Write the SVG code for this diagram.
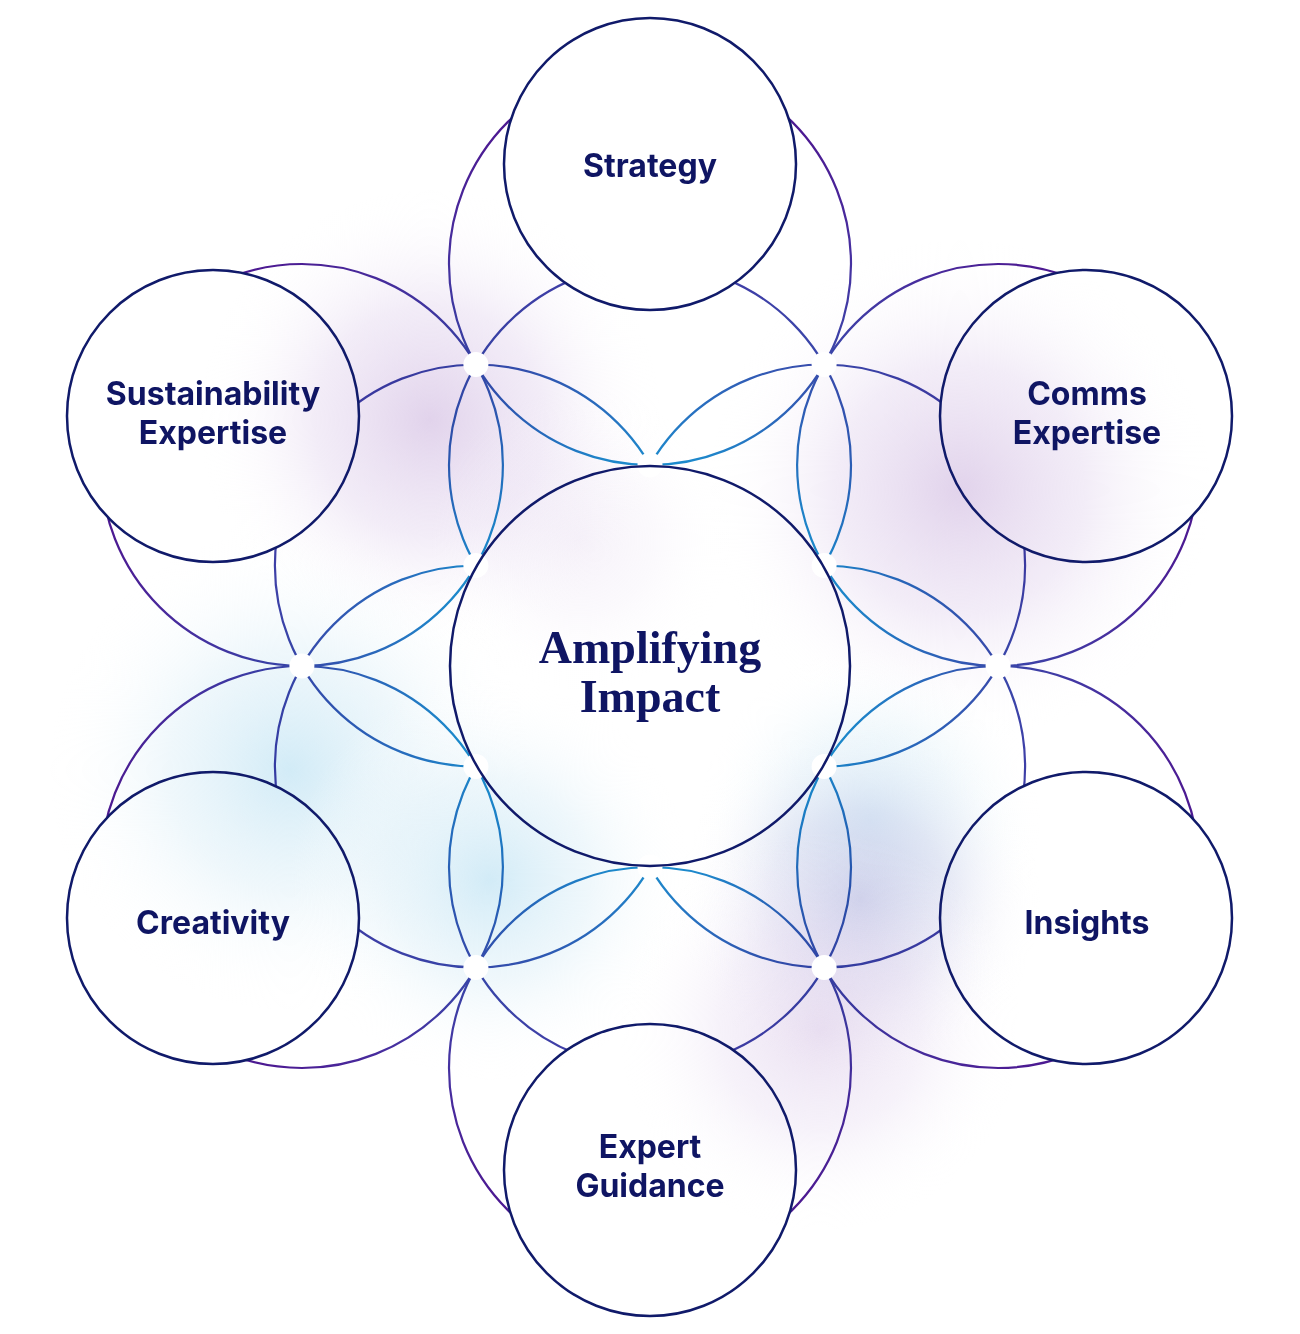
<svg xmlns="http://www.w3.org/2000/svg" width="1300" height="1334" viewBox="0 0 1300 1334">
<defs>
<radialGradient id="lineGrad" gradientUnits="userSpaceOnUse" cx="650" cy="666" r="650">
<stop offset="0.3" stop-color="#1a90cf"/>
<stop offset="0.4" stop-color="#2870c0"/>
<stop offset="0.55" stop-color="#3a46aa"/>
<stop offset="0.7" stop-color="#4630a0"/>
<stop offset="0.85" stop-color="#4c1a92"/>
<stop offset="1" stop-color="#4c1690"/>
</radialGradient>
<radialGradient id="gPurple"><stop offset="0" stop-color="#dccbe8" stop-opacity="0.85"/><stop offset="0.5" stop-color="#e6daf0" stop-opacity="0.5"/><stop offset="1" stop-color="#ffffff" stop-opacity="0"/></radialGradient>
<radialGradient id="gBlue"><stop offset="0" stop-color="#cde9f6" stop-opacity="0.9"/><stop offset="0.5" stop-color="#dff0f8" stop-opacity="0.5"/><stop offset="1" stop-color="#ffffff" stop-opacity="0"/></radialGradient>
<radialGradient id="gIndigo"><stop offset="0" stop-color="#c3c7e6" stop-opacity="0.9"/><stop offset="0.5" stop-color="#d8d8ee" stop-opacity="0.5"/><stop offset="1" stop-color="#ffffff" stop-opacity="0"/></radialGradient>
</defs>
<style>
.flower circle{fill:none;stroke:url(#lineGrad);stroke-width:2.2}
.nodefill{fill:#ffffff}
.glows{mix-blend-mode:multiply}
.ring{fill:none;stroke:#101a6a;stroke-width:2.5}
.dot{fill:#ffffff}
.lbl{font-family:Inter,Lato,sans-serif;font-weight:700;font-size:32px;fill:#0f1563;text-anchor:middle;font-variant-ligatures:none}
.title{font-family:"Liberation Serif",serif;font-weight:700;font-size:46px;fill:#0f1563;text-anchor:middle}
</style>
<rect width="1300" height="1334" fill="#ffffff"/>
<g id="connectors" class="flower">
<circle cx="650" cy="465" r="201"/>
<circle cx="824.1" cy="565.5" r="201"/>
<circle cx="824.1" cy="766.5" r="201"/>
<circle cx="650" cy="867" r="201"/>
<circle cx="475.9" cy="766.5" r="201"/>
<circle cx="475.9" cy="565.5" r="201"/>
<circle cx="650" cy="264" r="201"/>
<circle cx="998.1" cy="465" r="201"/>
<circle cx="998.1" cy="867" r="201"/>
<circle cx="650" cy="1068" r="201"/>
<circle cx="301.9" cy="867" r="201"/>
<circle cx="301.9" cy="465" r="201"/>
</g>
<g id="node-fills">
<circle class="nodefill" cx="650" cy="666" r="200"/>
<circle class="nodefill" cx="650" cy="164" r="146"/>
<circle class="nodefill" cx="1086" cy="416" r="146"/>
<circle class="nodefill" cx="1086" cy="918" r="146"/>
<circle class="nodefill" cx="650" cy="1170" r="146"/>
<circle class="nodefill" cx="213" cy="918" r="146"/>
<circle class="nodefill" cx="213" cy="416" r="146"/>
</g>
<g id="glows" class="glows">
<circle cx="430" cy="420" r="230" fill="url(#gPurple)"/>
<circle cx="960" cy="490" r="250" fill="url(#gPurple)"/>
<circle cx="290" cy="770" r="240" fill="url(#gBlue)"/>
<circle cx="490" cy="880" r="200" fill="url(#gBlue)"/>
<circle cx="870" cy="820" r="170" fill="url(#gBlue)"/>
<circle cx="860" cy="900" r="180" fill="url(#gIndigo)"/>
<circle cx="820" cy="1030" r="200" fill="url(#gPurple)" opacity="0.7"/>
<circle cx="580" cy="540" r="150" fill="url(#gPurple)" opacity="0.3"/>
</g>
<g id="dots">
<circle class="dot" cx="650" cy="465" r="12.5"/>
<circle class="dot" cx="824.1" cy="565.5" r="12.5"/>
<circle class="dot" cx="824.1" cy="766.5" r="12.5"/>
<circle class="dot" cx="650" cy="867" r="12.5"/>
<circle class="dot" cx="475.9" cy="766.5" r="12.5"/>
<circle class="dot" cx="475.9" cy="565.5" r="12.5"/>
<circle class="dot" cx="475.9" cy="364.5" r="12.5"/>
<circle class="dot" cx="824.1" cy="364.5" r="12.5"/>
<circle class="dot" cx="998.1" cy="666" r="12.5"/>
<circle class="dot" cx="824.1" cy="967.5" r="12.5"/>
<circle class="dot" cx="475.9" cy="967.5" r="12.5"/>
<circle class="dot" cx="301.9" cy="666" r="12.5"/>
</g>
<g id="node-center"><circle class="ring" cx="650" cy="666" r="200"/><text class="title" x="650" y="663">Amplifying</text><text class="title" x="650" y="712">Impact</text></g>
<g id="node-strategy"><circle class="ring" cx="650" cy="164" r="146"/><text class="lbl" x="650" y="177">Strategy</text></g>
<g id="node-comms"><circle class="ring" cx="1086" cy="416" r="146"/><text class="lbl" x="1087" y="405">Comms</text><text class="lbl" x="1087" y="444">Expertise</text></g>
<g id="node-insights"><circle class="ring" cx="1086" cy="918" r="146"/><text class="lbl" x="1087" y="934">Insights</text></g>
<g id="node-expert"><circle class="ring" cx="650" cy="1170" r="146"/><text class="lbl" x="650" y="1158">Expert</text><text class="lbl" x="650" y="1197">Guidance</text></g>
<g id="node-creativity"><circle class="ring" cx="213" cy="918" r="146"/><text class="lbl" x="213" y="934">Creativity</text></g>
<g id="node-sustainability"><circle class="ring" cx="213" cy="416" r="146"/><text class="lbl" x="213" y="405">Sustainability</text><text class="lbl" x="213" y="444">Expertise</text></g>
</svg>
